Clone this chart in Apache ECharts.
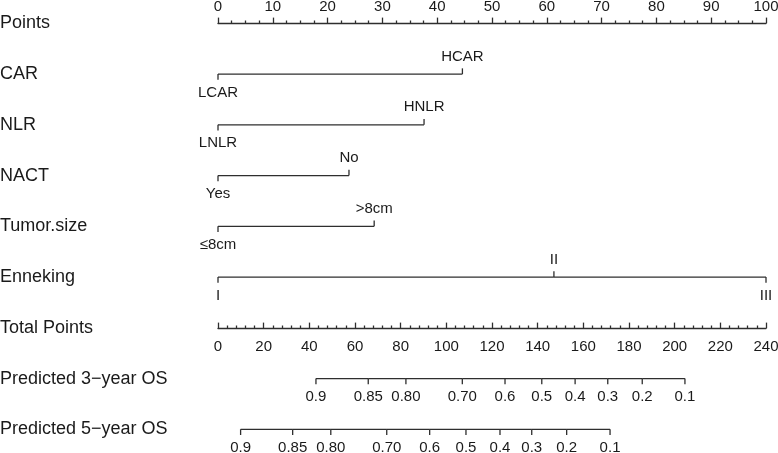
<!DOCTYPE html>
<html>
<head>
<meta charset="utf-8">
<script src="https://cdn.jsdelivr.net/npm/echarts@6/dist/echarts.min.js"></script>
<style>
  html, body { margin: 0; padding: 0; background: #fff; }
  #nomogram { width: 778px; height: 453px; }
</style>
</head>
<body>
<div id="nomogram"></div>
<script>
// rows of the nomogram, top to bottom
const rowNames = ['Points', 'CAR', 'NLR', 'NACT', 'Tumor.size', 'Enneking',
  'Total Points', 'Predicted 3\u2212year OS', 'Predicted 5\u2212year OS'];

// points for each level
const carLevels = ['LCAR', 'HCAR'];
const carPoints = [0, 44.6];
const nlrLevels = ['LNLR', 'HNLR'];
const nlrPoints = [0, 37.6];
const nactLevels = ['Yes', 'No'];
const nactPoints = [0, 23.9];
const sizeLevels = ['\u22648cm', '>8cm'];
const sizePoints = [0, 28.5];
const ennekingLevels = ['I', 'II', 'III'];
const ennekingPoints = [0, 61.3, 100];

// survival probability scales (position in total points)
const os3Labels = ['0.9', '0.85', '0.80', '0.70', '0.6', '0.5', '0.4', '0.3', '0.2', '0.1'];
const os3Total = [42.9, 65.8, 82.3, 107.0, 125.7, 141.8, 156.4, 170.7, 185.8, 204.5];
const os5Labels = ['0.9', '0.85', '0.80', '0.70', '0.6', '0.5', '0.4', '0.3', '0.2', '0.1'];
const os5Total = [9.9, 32.7, 49.4, 73.9, 92.7, 108.6, 123.5, 137.4, 152.7, 171.7];

const textColor = '#1a1a1a';
const lineColor = '#2e2e2e';
const smallFont = 15;
const fontFamily = 'Liberation Sans, Arial, sans-serif';

// one custom series per row: horizontal segment, ticks and level labels
function rowSeries(row, levels, values, xAxisIndex, allBelow) {
    const data = values.map((v, i) => [v, row, i, i > 0 ? values[i - 1] : v]);
    return {
        type: 'custom',
        xAxisIndex: xAxisIndex,
        yAxisIndex: 0,
        silent: true,
        clip: false,
        encode: { x: 0, y: 1 },
        data: data,
        renderItem: function (params, api) {
            const p = api.coord([api.value(0), api.value(1)]);
            const prev = api.coord([api.value(3), api.value(1)]);
            const i = api.value(2);
            // levels alternate below / above the line
            const up = !allBelow && i % 2 === 1;
            const dir = up ? -1 : 1;
            const children = [{
                type: 'line',
                shape: { x1: p[0], y1: p[1], x2: p[0], y2: p[1] + dir * 5.7 },
                style: { stroke: lineColor, lineWidth: 1.3 }
            }, {
                type: 'text',
                x: p[0],
                y: p[1] + dir * (up ? 17.5 : 18.5),
                style: {
                    text: levels[params.dataIndex],
                    fill: textColor,
                    fontSize: smallFont,
                    fontFamily: fontFamily,
                    align: 'center',
                    verticalAlign: 'middle'
                }
            }];
            if (i > 0) {
                children.push({
                    type: 'line',
                    shape: { x1: prev[0], y1: p[1], x2: p[0], y2: p[1] },
                    style: { stroke: lineColor, lineWidth: 1.3 }
                });
            }
            return { type: 'group', children: children };
        }
    };
}

const chart = echarts.init(document.getElementById('nomogram'));
chart.setOption({
    animation: false,
    backgroundColor: '#fff',
    grid: [{
        left: 218, right: 12, top: 23.3, bottom: 23.7,
        containLabel: false, outerBoundsMode: 'none'
    }, {
        left: 218, right: 12, top: 300, bottom: 124.7,
        containLabel: false, outerBoundsMode: 'none'
    }],
    xAxis: [{
        // Points scale
        type: 'value', gridIndex: 0, position: 'top',
        min: 0, max: 100, interval: 10,
        axisLine: { show: true, onZero: false, lineStyle: { color: lineColor, width: 1.3 } },
        axisTick: { show: true, length: 5.7, lineStyle: { color: lineColor, width: 1.3 } },
        minorTick: { show: true, splitNumber: 4, length: 2.8, lineStyle: { color: lineColor, width: 1.3 } },
        axisLabel: { color: textColor, fontSize: smallFont, fontFamily: fontFamily, margin: 8.5 },
        splitLine: { show: false }
    }, {
        // hidden total-points scale used by the probability rows
        type: 'value', gridIndex: 0, position: 'bottom',
        min: 0, max: 240, show: false
    }, {
        // Total Points scale
        type: 'value', gridIndex: 1, position: 'bottom',
        min: 0, max: 240, interval: 20,
        axisLine: { show: true, onZero: false, lineStyle: { color: lineColor, width: 1.3 } },
        axisTick: { show: true, inside: true, length: 5.7, lineStyle: { color: lineColor, width: 1.3 } },
        minorTick: { show: true, splitNumber: 5, length: 2.8, lineStyle: { color: lineColor, width: 1.3 } },
        axisLabel: { color: textColor, fontSize: smallFont, fontFamily: fontFamily, margin: 11 },
        splitLine: { show: false }
    }],
    yAxis: [{
        type: 'category', gridIndex: 0, inverse: true, boundaryGap: false,
        data: rowNames,
        axisLine: { show: false },
        axisTick: { show: false },
        splitLine: { show: false },
        axisLabel: {
            align: 'left', margin: 218, color: textColor,
            fontSize: 18, fontFamily: fontFamily
        }
    }, {
        type: 'value', gridIndex: 1, show: false
    }],
    series: [
        rowSeries(1, carLevels, carPoints, 0, false),
        rowSeries(2, nlrLevels, nlrPoints, 0, false),
        rowSeries(3, nactLevels, nactPoints, 0, false),
        rowSeries(4, sizeLevels, sizePoints, 0, false),
        rowSeries(5, ennekingLevels, ennekingPoints, 0, false),
        rowSeries(7, os3Labels, os3Total, 1, true),
        rowSeries(8, os5Labels, os5Total, 1, true)
    ]
});
</script>
</body>
</html>
